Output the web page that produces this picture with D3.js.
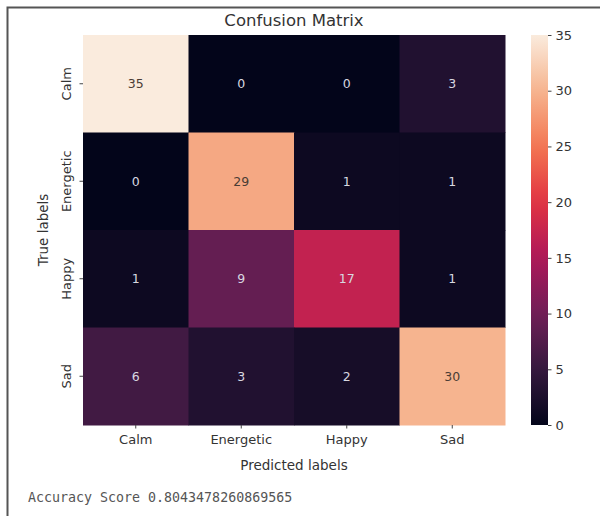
<!DOCTYPE html>
<html><head><meta charset="utf-8">
<script src="https://cdn.jsdelivr.net/npm/d3@7"></script>
<style>body{margin:0;background:#fff}svg{display:block}text{font-family:"DejaVu Sans",sans-serif}</style>
</head><body>
<script>
const categories = ["Calm", "Energetic", "Happy", "Sad"];
const matrix = [
  [35, 0, 0, 3],
  [0, 29, 1, 1],
  [1, 9, 17, 1],
  [6, 3, 2, 30]
];
const colorTicks = [0, 5, 10, 15, 20, 25, 30, 35];
const rocketStops = ["#03051a", "#35193e", "#701f57", "#ad1759", "#e13342", "#f37651", "#f6b48f", "#faebdd"];
const accuracyText = "Accuracy Score 0.8043478260869565";

const W = 600, H = 516;
const svg = d3.select("body").append("svg").attr("width", W).attr("height", H);
svg.append("rect").attr("width", W).attr("height", H).attr("fill", "#fff");
svg.append("path").attr("d", `M7.5,${H} V7.5 H${W}`).attr("fill", "none").attr("stroke", "#555").attr("stroke-width", 2);

const x = d3.scaleBand().domain(categories).range([83, 505]);
const y = d3.scaleBand().domain(categories).range([35, 425]);
const rocket = d3.piecewise(d3.interpolateRgb, rocketStops);
const color = d3.scaleSequential(rocket).domain([0, 35]);

const cells = [];
matrix.forEach((row, i) => row.forEach((v, j) => cells.push({t: categories[i], p: categories[j], v})));

svg.append("g").selectAll("rect").data(cells).join("rect")
  .attr("x", d => x(d.p)).attr("y", d => y(d.t))
  .attr("width", x.bandwidth() + 0.5).attr("height", y.bandwidth() + 0.5)
  .attr("fill", d => color(d.v));

svg.append("g").selectAll("text").data(cells).join("text")
  .attr("x", d => x(d.p) + x.bandwidth() / 2)
  .attr("y", d => y(d.t) + y.bandwidth() / 2)
  .attr("text-anchor", "middle").attr("dominant-baseline", "central")
  .attr("font-size", 12.5)
  .attr("fill", d => d3.lab(color(d.v)).l > 55 ? "#4a3d35" : "#d8d8e0")
  .text(d => d.v);

const tickFont = 13;
const xAxis = svg.append("g").attr("transform", "translate(0,425)")
  .call(d3.axisBottom(x).tickSize(3.5).tickPadding(6));
xAxis.select(".domain").remove();
xAxis.selectAll("text").attr("font-size", tickFont).attr("fill", "#333").style("font-family", "DejaVu Sans");
xAxis.selectAll("line").attr("stroke", "#444");

const yAxis = svg.append("g").attr("transform", "translate(83,0)")
  .call(d3.axisLeft(y).tickSize(3.5).tickPadding(4));
yAxis.select(".domain").remove();
yAxis.selectAll("line").attr("stroke", "#444");
yAxis.selectAll(".tick text").attr("font-size", tickFont).attr("fill", "#333").style("font-family", "DejaVu Sans")
  .attr("transform", "rotate(-90)").attr("x", 0).attr("y", -12).attr("dy", 0).attr("text-anchor", "middle");

svg.append("text").attr("x", 294).attr("y", 26).attr("text-anchor", "middle")
  .attr("font-size", 16.5).attr("fill", "#333").text("Confusion Matrix");
svg.append("text").attr("x", 294).attr("y", 470).attr("text-anchor", "middle")
  .attr("font-size", 13.5).attr("fill", "#333").text("Predicted labels");
svg.append("text").attr("transform", "translate(48,230) rotate(-90)").attr("text-anchor", "middle")
  .attr("font-size", 13.5).attr("fill", "#333").text("True labels");

const cb = {x: 531, w: 17};
const cy = d3.scaleLinear().domain([0, 35]).range([425, 35]);
const defs = svg.append("defs");
const grad = defs.append("linearGradient").attr("id", "cbg").attr("x1", 0).attr("y1", 1).attr("x2", 0).attr("y2", 0);
d3.range(0, 1.0001, 0.05).forEach(t => grad.append("stop").attr("offset", t).attr("stop-color", rocket(t)));
svg.append("rect").attr("x", cb.x).attr("y", 35).attr("width", cb.w).attr("height", 390).attr("fill", "url(#cbg)");
const cAxis = svg.append("g").attr("transform", `translate(${cb.x + cb.w},0)`)
  .call(d3.axisRight(cy).tickValues(colorTicks).tickSize(3.5).tickPadding(4));
cAxis.select(".domain").remove();
cAxis.selectAll("line").attr("stroke", "#444");
cAxis.selectAll("text").attr("font-size", tickFont).attr("fill", "#333").style("font-family", "DejaVu Sans");

svg.append("text").attr("x", 28).attr("y", 502)
  .style("font-family", "'DejaVu Sans Mono', monospace").attr("font-size", 13.3)
  .attr("fill", "#555").text(accuracyText);
</script>
</body></html>
